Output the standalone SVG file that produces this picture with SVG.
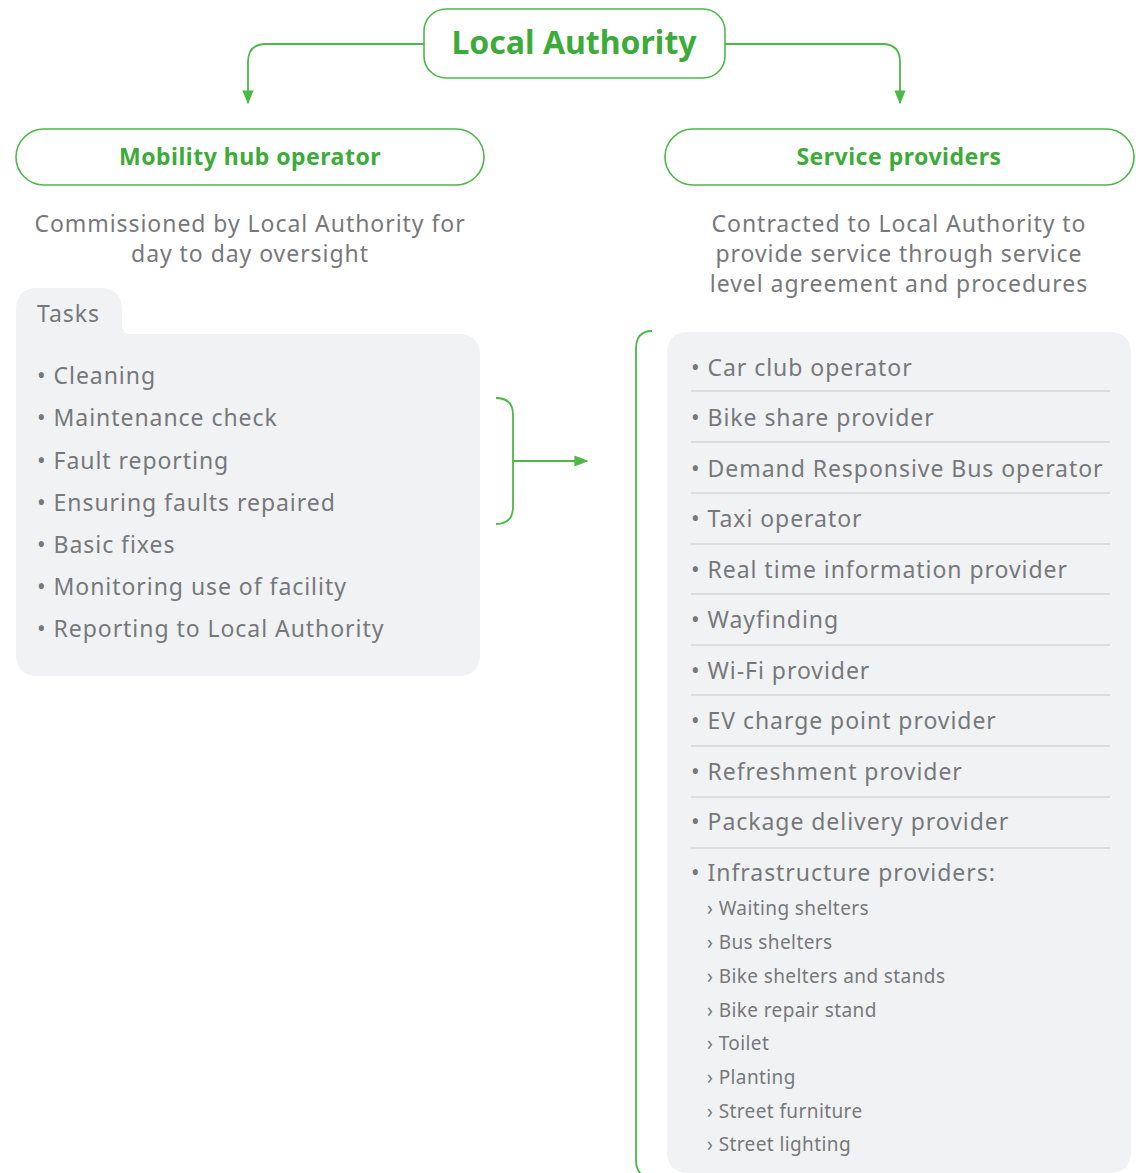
<svg xmlns="http://www.w3.org/2000/svg" width="1136" height="1173" viewBox="0 0 1136 1173">
<defs>
<style>
.box{fill:#fff;stroke:#4cb848;stroke-width:1.6}
.title{font-family:"Noto Sans",sans-serif;font-weight:bold;fill:#3dab3a;text-anchor:middle}
.desc{font-family:"Noto Sans",sans-serif;font-size:23px;fill:#77787b;text-anchor:middle;letter-spacing:0.95px}
.item{font-family:"Noto Sans",sans-serif;font-size:23px;fill:#77787b;letter-spacing:0.95px}
.sub{font-family:"Noto Sans",sans-serif;font-size:19px;fill:#77787b;letter-spacing:0.4px}
.panel{fill:#f1f2f4}
.sep{stroke:#d3d4d6;stroke-width:1.5}
.conn{fill:none;stroke:#4cb848;stroke-width:1.8}
</style>
<marker id="arr2" viewBox="0 0 10 10" refX="9" refY="5" markerWidth="14" markerHeight="14" orient="auto" markerUnits="userSpaceOnUse">
<path d="M0,1 L10,5 L0,9 z" fill="#4cb848"/>
</marker>
</defs>

<g id="connectors">
<path class="conn" d="M424,44 H266 Q248,44 248,62 V103" marker-end="url(#arr2)"/>
<path class="conn" d="M725,44 H882 Q900,44 900,62 V103" marker-end="url(#arr2)"/>
<path class="conn" d="M496,398 Q513,398 513,415 V507 Q513,524 496,524"/>
<path class="conn" d="M513,461 H587" marker-end="url(#arr2)"/>
<path class="conn" d="M652,331 Q636,331 636,349 V1160 Q636,1170 642,1175"/>
</g>

<g id="local-authority">
<rect class="box" x="424" y="9" width="301" height="69" rx="22"/>
<text class="title" x="574" y="54" font-size="32">Local Authority</text>
</g>

<g id="mobility-hub-operator">
<rect class="box" x="16" y="129" width="468" height="56" rx="28"/>
<text class="title" x="250" y="165" font-size="23" letter-spacing="0.5">Mobility hub operator</text>
<text class="desc" x="250" y="232">Commissioned by Local Authority for</text>
<text class="desc" x="250" y="262">day to day oversight</text>
</g>

<g id="service-providers">
<rect class="box" x="665" y="129" width="469" height="56" rx="28"/>
<text class="title" x="899" y="165" font-size="23" letter-spacing="0.5">Service providers</text>
<text class="desc" x="899" y="232">Contracted to Local Authority to</text>
<text class="desc" x="899" y="262">provide service through service</text>
<text class="desc" x="899" y="292">level agreement and procedures</text>
</g>

<g id="tasks">
<path class="panel" d="M16,310 Q16,288 38,288 H100 Q122,288 122,310 V325 Q122,334 131,334 H458 Q480,334 480,356 V654 Q480,676 458,676 H38 Q16,676 16,654 Z"/>
<text class="item" x="37" y="322" font-size="22">Tasks</text>
<text class="item" x="37" y="384">• Cleaning</text>
<text class="item" x="37" y="426">• Maintenance check</text>
<text class="item" x="37" y="469">• Fault reporting</text>
<text class="item" x="37" y="511">• Ensuring faults repaired</text>
<text class="item" x="37" y="553">• Basic fixes</text>
<text class="item" x="37" y="595">• Monitoring use of facility</text>
<text class="item" x="37" y="637">• Reporting to Local Authority</text>
</g>

<g id="provider-list">
<path class="panel" d="M689,332 H1109 Q1131,332 1131,354 V1151 Q1131,1173 1109,1173 H689 Q667,1173 667,1151 V354 Q667,332 689,332 Z"/>
<g>
<line class="sep" x1="691" y1="391" x2="1110" y2="391"/>
<line class="sep" x1="691" y1="442" x2="1110" y2="442"/>
<line class="sep" x1="691" y1="493" x2="1110" y2="493"/>
<line class="sep" x1="691" y1="544" x2="1110" y2="544"/>
<line class="sep" x1="691" y1="594" x2="1110" y2="594"/>
<line class="sep" x1="691" y1="645" x2="1110" y2="645"/>
<line class="sep" x1="691" y1="695" x2="1110" y2="695"/>
<line class="sep" x1="691" y1="746" x2="1110" y2="746"/>
<line class="sep" x1="691" y1="797" x2="1110" y2="797"/>
<line class="sep" x1="691" y1="848" x2="1110" y2="848"/>
</g>
<text class="item" x="691" y="376">• Car club operator</text>
<text class="item" x="691" y="426">• Bike share provider</text>
<text class="item" x="691" y="477">• Demand Responsive Bus operator</text>
<text class="item" x="691" y="527">• Taxi operator</text>
<text class="item" x="691" y="578">• Real time information provider</text>
<text class="item" x="691" y="628">• Wayfinding</text>
<text class="item" x="691" y="679">• Wi-Fi provider</text>
<text class="item" x="691" y="729">• EV charge point provider</text>
<text class="item" x="691" y="780">• Refreshment provider</text>
<text class="item" x="691" y="830">• Package delivery provider</text>
<text class="item" x="691" y="881">• Infrastructure providers:</text>
<text class="sub" x="707" y="915">› Waiting shelters</text>
<text class="sub" x="707" y="949">› Bus shelters</text>
<text class="sub" x="707" y="983">› Bike shelters and stands</text>
<text class="sub" x="707" y="1017">› Bike repair stand</text>
<text class="sub" x="707" y="1050">› Toilet</text>
<text class="sub" x="707" y="1084">› Planting</text>
<text class="sub" x="707" y="1118">› Street furniture</text>
<text class="sub" x="707" y="1151">› Street lighting</text>
</g>
</svg>
